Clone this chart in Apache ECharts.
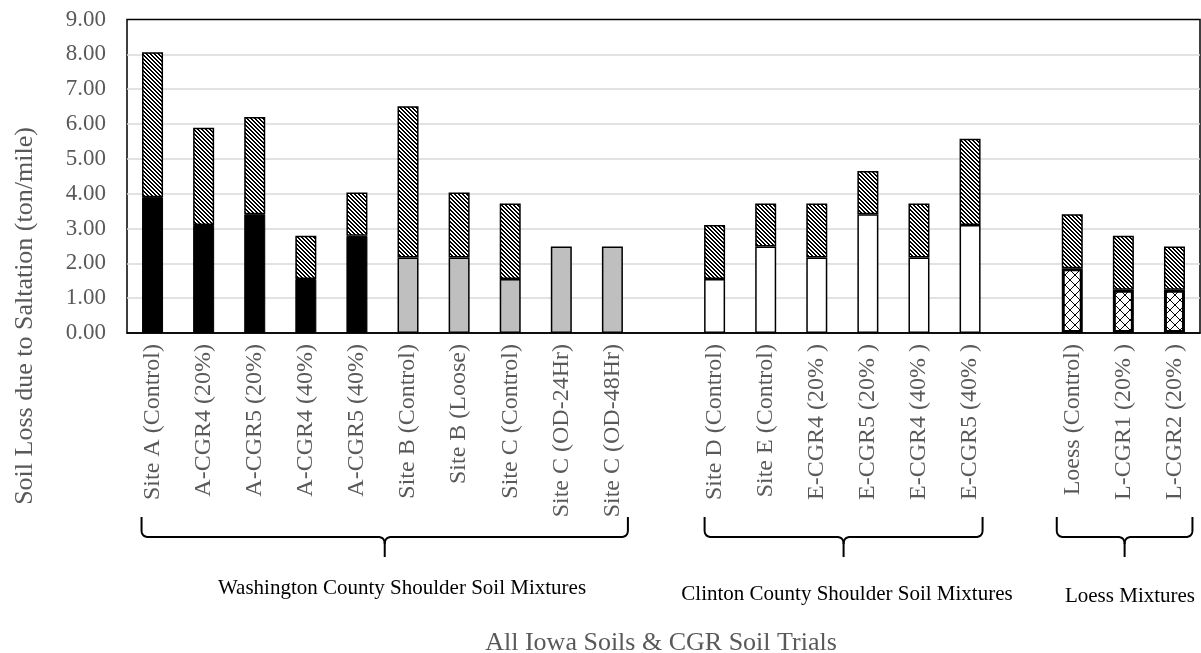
<!DOCTYPE html>
<html lang="en">
<head>
    <meta charset="UTF-8">
    <title>Soil Loss due to Saltation</title>
    <style>
        body, html {
            margin: 0;
            height: 100%;
            width: 100%;
            background: #fff;
        }
    </style>
</head>
<body>
<div id="main" style="height: 653px; width: 1201px;"></div>
<script src="https://cdn.jsdelivr.net/npm/echarts@6/dist/echarts.min.js"></script>
<script>
    // categories, '' = empty slot between the groups
    var categories = [
        'Site A (Control)', 'A-CGR4 (20%)', 'A-CGR5 (20%)', 'A-CGR4 (40%)', 'A-CGR5 (40%)',
        'Site B (Control)', 'Site B (Loose)', 'Site C (Control)', 'Site C (OD-24Hr)', 'Site C (OD-48Hr)',
        '',
        'Site D (Control)', 'Site E (Control)', 'E-CGR4 (20% )', 'E-CGR5 (20% )', 'E-CGR4 (40% )', 'E-CGR5 (40% )',
        '',
        'Loess (Control)', 'L-CGR1 (20% )', 'L-CGR2 (20% )'
    ];
    // lower (solid) part of each bar
    var baseValues = [3.90, 3.10, 3.41, 1.55, 2.79, 2.17, 2.17, 1.55, 2.48, 2.48, '-',
        1.55, 2.48, 2.17, 3.41, 2.17, 3.10, '-', 1.86, 1.24, 1.24];
    // upper (hatched) part of each bar
    var hatchValues = [4.16, 2.79, 2.79, 1.24, 1.24, 4.34, 1.86, 2.17, '-', '-', '-',
        1.55, 1.24, 1.55, 1.24, 1.55, 2.48, '-', 1.55, 1.55, 1.24];
    var yTicks = [0, 9, 1];

    // groups under the axis: first / last category index
    var groups = [
        {name: 'Washington County Shoulder Soil Mixtures', from: 0, to: 9},
        {name: 'Clinton County Shoulder Soil Mixtures', from: 11, to: 16},
        {name: 'Loess Mixtures', from: 18, to: 20}
    ];
    var yTitle = 'Soil Loss due to Saltation (ton/mile)';
    var xTitle = 'All Iowa Soils & CGR Soil Trials';

    var FONT = '"Liberation Serif", "Times New Roman", serif';
    var GREY_TEXT = '#595959';

    // downward diagonal stripes
    function stripeCanvas() {
        var c = document.createElement('canvas');
        c.width = 4; c.height = 4;
        var ctx = c.getContext('2d');
        ctx.fillStyle = '#fff';
        ctx.fillRect(0, 0, 4, 4);
        ctx.fillStyle = '#000';
        for (var i = 0; i < 4; i++) {
            ctx.fillRect(i, i, 1, 1);
            ctx.fillRect((i + 1) % 4, i, 1, 1);
        }
        return c;
    }
    // diagonal cross hatch
    function crossCanvas() {
        var n = 10;
        var c = document.createElement('canvas');
        c.width = n; c.height = n;
        var ctx = c.getContext('2d');
        ctx.fillStyle = '#fff';
        ctx.fillRect(0, 0, n, n);
        ctx.fillStyle = '#000';
        for (var i = 0; i < n; i++) {
            ctx.fillRect(i, i, 1, 1);
            ctx.fillRect(n - 1 - i, i, 1, 1);
        }
        return c;
    }
    var stripe = {image: stripeCanvas(), repeat: 'repeat'};
    var cross = {image: crossCanvas(), repeat: 'repeat'};

    function baseStyle(i) {
        if (i <= 4) return {color: '#000', borderColor: '#000', borderWidth: 1};
        if (i <= 9) return {color: '#bfbfbf', borderColor: '#000', borderWidth: 1.5};
        if (i <= 16) return {color: '#fff', borderColor: '#000', borderWidth: 1.5};
        return {color: cross, borderColor: '#000', borderWidth: 3};
    }

    var myChart = echarts.init(document.getElementById('main'));

    var option = {
        backgroundColor: '#fff',
        animation: false,
        grid: {
            left: 127, right: 1, top: 19.5, bottom: 320,
            show: true, borderColor: '#000', borderWidth: 1.5,
            containLabel: false
        },
        xAxis: {
            type: 'category',
            data: categories,
            axisLine: {lineStyle: {color: '#000', width: 1.5}},
            axisTick: {show: false},
            axisLabel: {
                interval: 0, rotate: 90, margin: 11,
                fontFamily: FONT, fontSize: 24, color: GREY_TEXT
            }
        },
        yAxis: {
            type: 'value',
            min: yTicks[0], max: yTicks[1], interval: yTicks[2],
            axisLine: {show: false},
            axisTick: {show: false},
            axisLabel: {
                margin: 21,
                fontFamily: FONT, fontSize: 23, color: GREY_TEXT,
                formatter: function (v) { return v.toFixed(2); }
            },
            splitLine: {
                showMinLine: false, showMaxLine: false,
                lineStyle: {color: '#d9d9d9', width: 1.5}
            }
        },
        series: [
            {
                type: 'bar',
                stack: 'loss',
                barWidth: 21,
                data: baseValues.map(function (v, i) {
                    return {value: v, itemStyle: baseStyle(i)};
                })
            },
            {
                type: 'bar',
                stack: 'loss',
                barWidth: 21,
                itemStyle: {color: stripe, borderColor: '#000', borderWidth: 1.5},
                data: hatchValues
            }
        ]
    };
    myChart.setOption(option);

    // quadratic curve points for the rounded corners of a bracket
    function quad(p0, p1, p2, pts) {
        for (var t = 0.125; t <= 1.0001; t += 0.125) {
            var a = (1 - t) * (1 - t), b = 2 * (1 - t) * t, c = t * t;
            pts.push([a * p0[0] + b * p1[0] + c * p2[0], a * p0[1] + b * p1[1] + c * p2[1]]);
        }
    }
    function bracket(x1, x2, top, line, tip) {
        var mid = (x1 + x2) / 2, r = 7;
        var left = [[x1, top], [x1, line - r]];
        quad([x1, line - r], [x1, line], [x1 + r, line], left);
        left.push([mid - r, line]);
        quad([mid - r, line], [mid, line], [mid, line + r], left);
        left.push([mid, tip]);
        var right = [[mid, line + r]];
        quad([mid, line + r], [mid, line], [mid + r, line], right);
        right.push([x2 - r, line]);
        quad([x2 - r, line], [x2, line], [x2, line - r], right);
        right.push([x2, top]);
        return [left, right].map(function (p) {
            return {
                type: 'polyline',
                shape: {points: p},
                style: {fill: null, stroke: '#000', lineWidth: 2}
            };
        });
    }

    // bracket ends relative to the first / last bar centre, label centre
    var bracketPad = [[-11, 15.5], [-10, 12.5], [-15.5, 18]];
    var labelPos = [[402, 588], [847, 594], [1130, 596]];
    var elements = [];
    groups.forEach(function (g, k) {
        var x1 = myChart.convertToPixel({xAxisIndex: 0}, g.from) + bracketPad[k][0];
        var x2 = myChart.convertToPixel({xAxisIndex: 0}, g.to) + bracketPad[k][1];
        elements = elements.concat(bracket(x1, x2, 517, 537, 557));
        elements.push({
            type: 'text',
            x: labelPos[k][0],
            y: labelPos[k][1],
            style: {
                text: g.name, fill: '#000', font: '21px ' + FONT,
                align: 'center', verticalAlign: 'middle'
            }
        });
    });
    elements.push({
        type: 'text',
        x: 25, y: 316,
        rotation: Math.PI / 2,
        style: {
            text: yTitle, fill: GREY_TEXT, font: '26px ' + FONT,
            align: 'center', verticalAlign: 'middle'
        }
    });
    elements.push({
        type: 'text',
        x: 661, y: 643,
        style: {
            text: xTitle, fill: GREY_TEXT, font: '26px ' + FONT,
            align: 'center', verticalAlign: 'middle'
        }
    });
    myChart.setOption({graphic: {elements: elements}});
</script>
</body>
</html>
